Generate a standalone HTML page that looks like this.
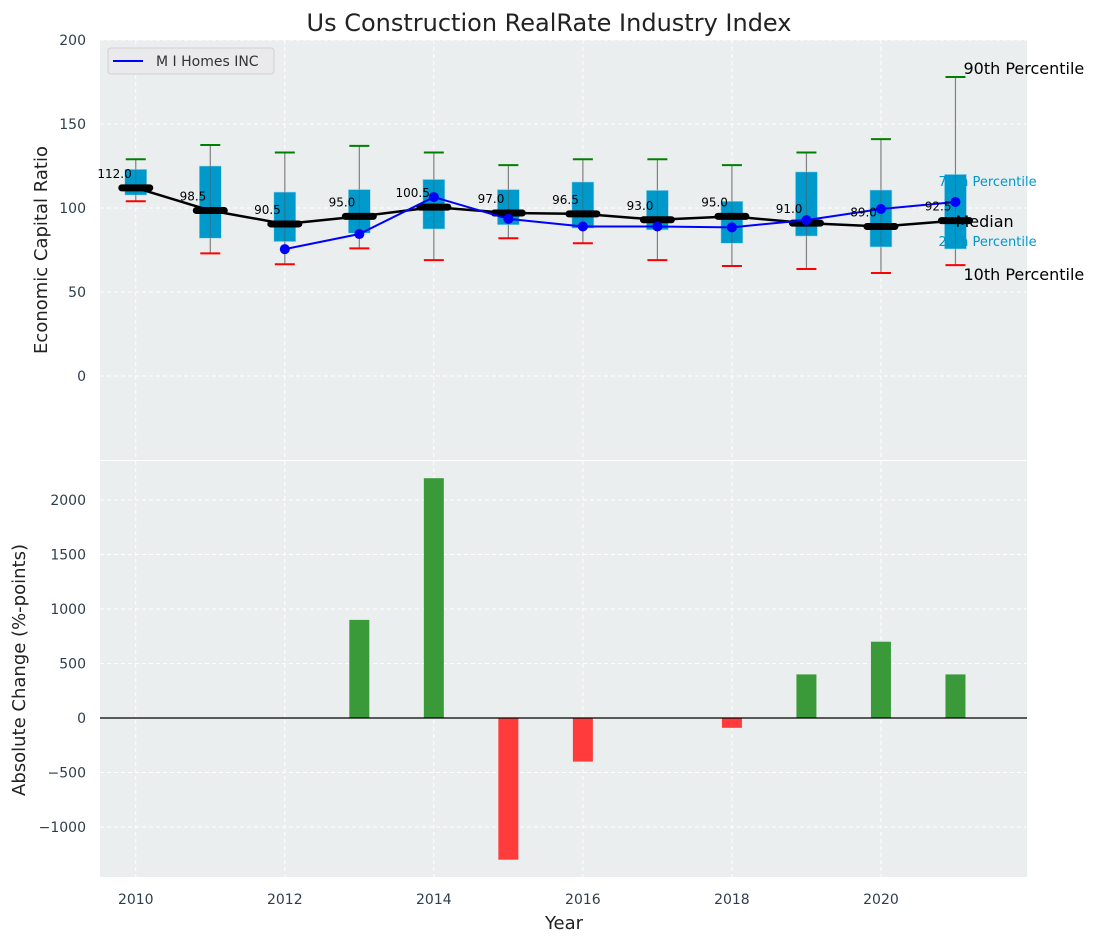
<!DOCTYPE html>
<html><head><meta charset="utf-8"><style>
body{margin:0;background:#fff;}
svg{display:block;font-family:"DejaVu Sans","Liberation Sans",sans-serif;}
</style></head><body>
<svg id="c" width="1098" height="942"></svg>
<script>
const years=[2010,2011,2012,2013,2014,2015,2016,2017,2018,2019,2020,2021];
const p90=[129,137.5,133,137,133,125.5,129,129,125.5,133,141,178];
const q3=[123,125,109.5,111,117,111,115.5,110.5,104,121.5,110.7,120];
const medians=[112,98.5,90.5,95,100.5,97,96.5,93,95,91,89,92.5];
const q1=[107.7,82,80,85,87.5,90,88,87,79,83.3,76.8,75.6];
const p10=[104,73,66.5,76,69,82,79,69,65.5,63.7,61.3,66];
const companyYears=[2012,2013,2014,2015,2016,2017,2018,2019,2020,2021];
const companyVals=[75.5,84.5,106.5,93.5,89,89,88.5,92.8,99.4,103.6];
const changes=[0,0,0,900,2200,-1300,-400,0,-90,400,700,400];
const topTicks=[0,50,100,150,200];
const botTicks=[-1000,-500,0,500,1000,1500,2000];
const xTicks=[2010,2012,2014,2016,2018,2020];

const NS="http://www.w3.org/2000/svg";
const svg=document.getElementById('c');
function el(t,a,txt){const e=document.createElementNS(NS,t);for(const k in a)e.setAttribute(k,a[k]);if(txt!==undefined)e.textContent=txt;svg.appendChild(e);return e;}
const L=100,R=1027,T1=40,B1=460,T2=461,B2=877;
const X=v=>L+(v-2009.52)/(2021.96-2009.52)*(R-L);
const Y1=v=>376-v*1.68;
const Y2=v=>718-v*0.109;

let e;
e=el('rect',{x:L,y:T1,width:R-L,height:B1-T1,fill:'#ebeeee'});

e=el('rect',{x:L,y:T2,width:R-L,height:B2-T2,fill:'#ebeeee'});

xTicks.forEach(t=>{
 el('line',{x1:X(t),x2:X(t),y1:T1,y2:B1,stroke:'#fff','stroke-dasharray':'4,3','stroke-width':1});
 el('line',{x1:X(t),x2:X(t),y1:T2,y2:B2,stroke:'#fff','stroke-dasharray':'4,3','stroke-width':1});
 e=el('text',{x:X(t),y:904,'text-anchor':'middle','font-size':14,fill:'#2f3e4e'},t);
 
});
topTicks.forEach(t=>{
 el('line',{x1:L,x2:R,y1:Y1(t),y2:Y1(t),stroke:'#fff','stroke-dasharray':'4,3','stroke-width':1});
 e=el('text',{x:86,y:Y1(t)+5,'text-anchor':'end','font-size':14,fill:'#2f3e4e'},t);
 
});
botTicks.forEach(t=>{
 el('line',{x1:L,x2:R,y1:Y2(t),y2:Y2(t),stroke:'#fff','stroke-dasharray':'4,3','stroke-width':1});
 e=el('text',{x:86,y:Y2(t)+5,'text-anchor':'end','font-size':14,fill:'#2f3e4e'},t<0?'\u2212'+(-t):t);
 
});
years.forEach((yr,i)=>{
 const x=X(yr),hw=11;
 e=el('line',{x1:x,x2:x,y1:Y1(p90[i]),y2:Y1(p10[i]),stroke:'#808080','stroke-width':1.2});
 
 e=el('rect',{x:x-hw,y:Y1(q3[i]),width:2*hw,height:Y1(q1[i])-Y1(q3[i]),fill:'#0099cc',stroke:'#a8d8ea','stroke-width':0.6});
 
 el('line',{x1:x,x2:x,y1:Y1(q3[i]),y2:Y1(q1[i]),stroke:'#555','stroke-width':1,opacity:0.5});
 e=el('line',{x1:x-10,x2:x+10,y1:Y1(p90[i]),y2:Y1(p90[i]),stroke:'green','stroke-width':2});
 
 e=el('line',{x1:x-10,x2:x+10,y1:Y1(p10[i]),y2:Y1(p10[i]),stroke:'red','stroke-width':2});
 
});
const rx=X(2021);
e=el('text',{x:rx-17,y:186,'font-size':13,fill:'#0099cc'},'75th Percentile');

e=el('text',{x:rx-17,y:246,'font-size':13,fill:'#0099cc'},'25th Percentile');

e=el('polyline',{points:years.map((y,i)=>X(y)+','+Y1(medians[i])).join(' '),fill:'none',stroke:'#000','stroke-width':2.5});

years.forEach((yr,i)=>{
 e=el('line',{x1:X(yr)-14,x2:X(yr)+14,y1:Y1(medians[i]),y2:Y1(medians[i]),stroke:'#000','stroke-width':7,'stroke-linecap':'round'});
 
});
e=el('polyline',{points:companyYears.map((y,i)=>X(y)+','+Y1(companyVals[i])).join(' '),fill:'none',stroke:'#0000ff','stroke-width':2});

companyYears.forEach((yr,i)=>{
 e=el('circle',{cx:X(yr),cy:Y1(companyVals[i]),r:5,fill:'#0000ff'});
 
});
years.forEach((yr,i)=>{
 e=el('text',{x:X(yr)-4,y:Y1(medians[i])-10,'text-anchor':'end','font-size':12,fill:'#000'},medians[i].toFixed(1));
 
});
e=el('text',{x:rx+8,y:74,'font-size':16,fill:'#000'},'90th Percentile');

e=el('text',{x:rx,y:227,'font-size':16,fill:'#000'},'Median');

e=el('text',{x:rx+8,y:280,'font-size':16,fill:'#000'},'10th Percentile');

years.forEach((yr,i)=>{
 const v=changes[i];if(v===0)return;
 const y0=Y2(0),y1=Y2(v);
 e=el('rect',{x:X(yr)-10,y:Math.min(y0,y1),width:20,height:Math.abs(y1-y0),fill:v>0?'#3a9a3a':'#ff3b3b'});
 
});
e=el('line',{x1:L,x2:R,y1:Y2(0),y2:Y2(0),stroke:'#000','stroke-width':1.2});

e=el('rect',{x:108,y:48,width:166,height:26,rx:3,fill:'#eaeaec',stroke:'#d0d0d0'});

el('line',{x1:113,x2:143,y1:61,y2:61,stroke:'#0000ff','stroke-width':2});
e=el('text',{x:156,y:66,'font-size':14,fill:'#333'},'M I Homes INC');

e=el('text',{x:549,y:31,'text-anchor':'middle','font-size':24,fill:'#222'},'Us Construction RealRate Industry Index');

e=el('text',{x:564,y:929,'text-anchor':'middle','font-size':18,fill:'#222'},'Year');

e=el('text',{x:47,y:250,'text-anchor':'middle','font-size':18,fill:'#222',transform:'rotate(-90 47 250)'},'Economic Capital Ratio');

e=el('text',{x:25,y:670,'text-anchor':'middle','font-size':18,fill:'#222',transform:'rotate(-90 25 670)'},'Absolute Change (%-points)');

</script>
</body></html>
